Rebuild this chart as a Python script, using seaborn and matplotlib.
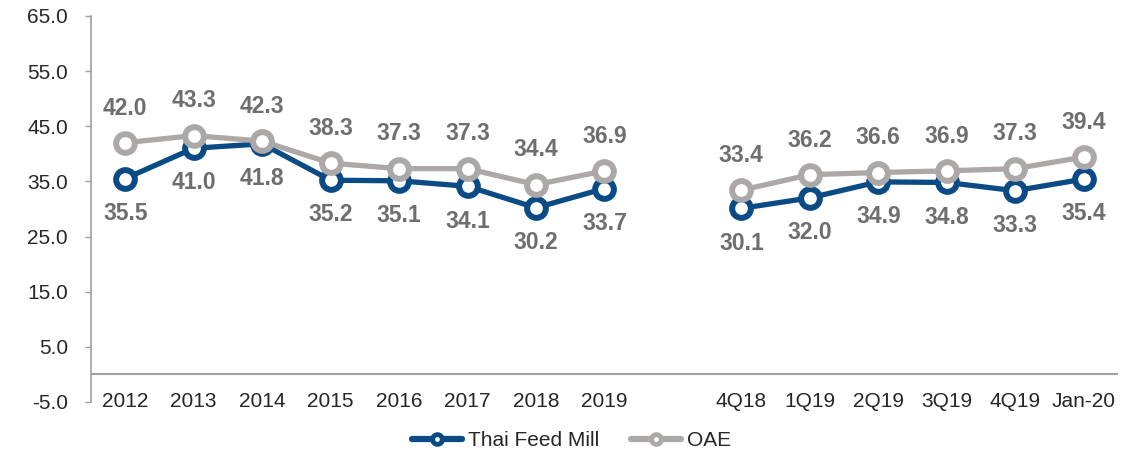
import matplotlib
matplotlib.use("Agg")
import matplotlib.pyplot as plt
from matplotlib.lines import Line2D
import numpy as np
import pandas as pd
import seaborn as sns

# ── Data ──────────────────────────────────────────────────────────────────────
years = ["2012", "2013", "2014", "2015", "2016", "2017", "2018", "2019"]
quarters = ["4Q18", "1Q19", "2Q19", "3Q19", "4Q19", "Jan-20"]

tfm_years = [35.5, 41.0, 41.8, 35.2, 35.1, 34.1, 30.2, 33.7]
oae_years = [42.0, 43.3, 42.3, 38.3, 37.3, 37.3, 34.4, 36.9]
tfm_quarters = [30.1, 32.0, 34.9, 34.8, 33.3, 35.4]
oae_quarters = [33.4, 36.2, 36.6, 36.9, 37.3, 39.4]

series_names = ["Thai Feed Mill", "OAE"]
y_ticks = [-5, 5, 15, 25, 35, 45, 55, 65]

BLUE = "#0A4A85"
GRAY = "#ABA8A7"
LABEL_GRAY = "#6E6E6E"

# categories with an empty slot between the two blocks
categories = years + [""] + quarters
pos_years = list(range(len(years)))
pos_quarters = list(range(len(years) + 1, len(categories)))

rows = []
for name, yv, qv in [("Thai Feed Mill", tfm_years, tfm_quarters),
                     ("OAE", oae_years, oae_quarters)]:
    for p, v in zip(pos_years, yv):
        rows.append({"series": name, "segment": "years", "pos": p, "value": v})
    for p, v in zip(pos_quarters, qv):
        rows.append({"series": name, "segment": "quarters", "pos": p, "value": v})
df = pd.DataFrame(rows)

# ── Plot ──────────────────────────────────────────────────────────────────────
sns.set_style("white")
plt.rcParams["font.family"] = ["Liberation Sans", "DejaVu Sans"]

fig, ax = plt.subplots(figsize=(11.43, 4.53), dpi=100)
fig.subplots_adjust(left=0.0796, right=0.978, top=0.965, bottom=0.1126)

colors = {"Thai Feed Mill": BLUE, "OAE": GRAY}
offsets = {"Thai Feed Mill": -25, "OAE": 25}

for name in series_names:
    sub = df[df["series"] == name]
    sns.lineplot(data=sub, x="pos", y="value", units="segment", estimator=None,
                 color=colors[name], lw=3.8, marker="o", ms=13.5,
                 mfc="white", mec=colors[name], mew=4.3, ax=ax, legend=False)
    for _, r in sub.iterrows():
        ax.annotate(f"{r['value']:.1f}", (r["pos"], r["value"]),
                    xytext=(0, offsets[name]), textcoords="offset points",
                    ha="center", va="center", fontsize=16.5, fontweight="bold",
                    color=LABEL_GRAY)

ax.set_xlim(-0.5, len(categories) - 0.5)
ax.set_ylim(-5, 65)
ax.set_yticks(y_ticks)
ax.set_yticklabels([f"{t:.1f}" for t in y_ticks], fontsize=15)
ax.set_xticks(range(len(categories)))
ax.set_xticklabels(categories, fontsize=15)
for lab in ax.get_xticklabels():
    lab.set_va("center")
ax.tick_params(axis="x", length=0, pad=0)
ax.tick_params(axis="y", length=4.5, width=1, color="#A0A0A0", pad=12,
               direction="out", left=True)
ax.set_xlabel("")
ax.set_ylabel("")

for s in ["top", "right", "bottom"]:
    ax.spines[s].set_visible(False)
ax.spines["left"].set_color("#A0A0A0")
ax.spines["left"].set_linewidth(1.2)
ax.axhline(0, color="#A0A0A0", lw=1.5, zorder=1)

handles = [Line2D([0], [0], color=colors[n], lw=4.5, marker="o", ms=7,
                  mfc="white", mec=colors[n], mew=3.5) for n in series_names]
fig.legend(handles, series_names, loc="center", bbox_to_anchor=(0.5, 0.028),
           ncol=2, frameon=False, fontsize=15, handlelength=2.4,
           handletextpad=0.3, columnspacing=1.5)

fig.savefig("out.png", dpi=100)
